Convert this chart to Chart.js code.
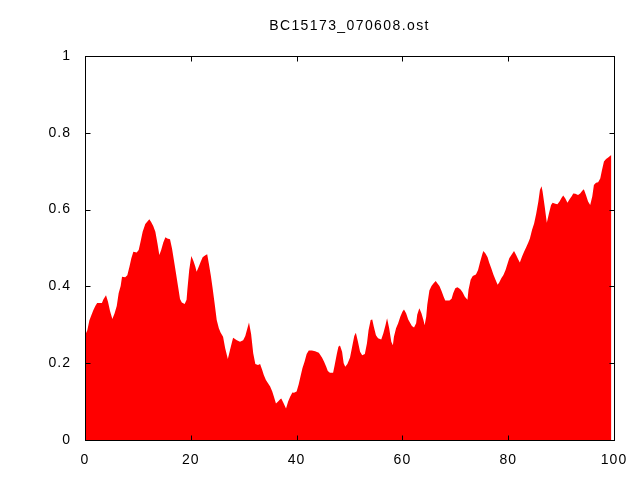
<!DOCTYPE html>
<html>
<head>
<meta charset="utf-8">
<script src="https://cdn.jsdelivr.net/npm/chart.js@4/dist/chart.umd.min.js"></script>
<style>
html,body{margin:0;padding:0;background:#fff;}
#wrap{width:640px;height:480px;}
</style>
</head>
<body>
<div id="wrap"><canvas id="c" width="640" height="480"></canvas></div>
<script>
const chartTitle = "BC15173_070608.ost";
const xTickValues = [0, 20, 40, 60, 80, 100];
const yTickValues = [0, 0.2, 0.4, 0.6, 0.8, 1];

const xs = [0,0.44,0.82,1.2,1.57,1.95,2.3,2.7,3.2,3.47,3.97,4.35,4.73,5.17,5.6,6.0,6.36,6.74,7.0,7.6,8.0,8.4,8.76,9.14,9.77,10.15,10.5,10.9,11.4,11.8,12.16,12.5,12.9,13.3,13.7,14.05,14.4,14.8,15.2,15.56,16.07,16.45,16.8,17.2,17.6,17.96,18.3,18.84,19.2,19.35,19.7,20.1,20.5,20.86,21.1,21.5,21.87,22.24,22.75,23.1,
23.4,23.8,24.1,24.5,24.9,25.3,25.65,26.1,26.5,27.0,27.4,27.8,28.0,28.7,29.3,29.9,30.3,30.7,31.0,31.4,31.8,32.2,32.7,33.1,33.5,33.8,34.2,34.6,35.0,35.4,35.7,36.1,36.5,36.9,37.1,37.5,38.0,38.4,38.8,39.2,39.5,40.0,40.4,40.8,41.1,41.5,41.9,42.3,42.9,43.5,44.2,
44.8,45.2,45.6,45.9,46.3,46.9,47.2,47.6,47.9,48.2,48.6,48.9,49.2,49.6,50.1,50.5,50.9,51.2,51.6,52.0,52.4,52.9,53.3,53.6,54.0,54.3,54.6,55.0,55.4,56.0,56.4,56.8,57.1,57.5,57.9,58.2,58.4,58.8,59.2,59.6,60.0,60.3,60.7,61.1,61.5,61.8,62.2,62.6,62.8,63.2,63.6,64.0,64.2,64.5,64.7,65.1,65.5,65.9,66.3,66.6,67.0,67.4,67.8,68.1,68.9,69.3,69.6,70.0,70.4,70.7,
71.0,71.4,71.8,72.3,72.5,72.9,73.3,73.9,74.3,74.7,75.1,75.3,75.7,76.1,76.4,76.8,77.2,77.6,78.0,78.3,78.7,79.1,79.5,79.9,80.2,80.6,81.1,81.5,81.9,82.2,82.6,83.0,83.4,83.8,84.1,84.5,84.9,85.3,85.7,86.0,86.3,86.5,86.9,87.3,87.7,88.1,88.4,88.9,89.3,89.7,90.1,90.4,90.8,91.2,91.6,92.0,92.3,92.7,93.2,93.6,94.0,94.3,94.7,95.1,95.5,95.9,96.2,96.6,97.0,97.4,97.7,98.1,98.5,98.9,99.3,99.5];

const ys = [0.273,0.286,0.311,0.325,0.338,0.349,0.357,0.357,0.357,0.366,0.377,0.36,0.336,0.315,0.33,0.349,0.382,0.401,0.425,0.424,0.429,0.451,0.473,0.49,0.488,0.495,0.516,0.542,0.5625,0.569,0.575,0.568,0.557,0.542,0.512,0.482,0.495,0.514,0.528,0.525,0.523,0.499,0.469,0.434,0.399,0.367,0.358,0.354,0.365,0.391,0.443,0.479,0.466,0.451,0.438,0.451,0.464,0.476,0.481,0.484,
0.46,0.427,0.398,0.356,0.3125,0.291,0.279,0.269,0.239,0.211,0.234,0.256,0.266,0.26,0.256,0.26,0.271,0.291,0.306,0.276,0.226,0.198,0.195,0.198,0.182,0.169,0.156,0.148,0.139,0.126,0.113,0.095,0.1,0.106,0.108,0.097,0.082,0.1,0.113,0.124,0.123,0.126,0.145,0.169,0.187,0.204,0.224,0.233,0.233,0.231,0.227,
0.215,0.204,0.191,0.18,0.175,0.175,0.195,0.224,0.243,0.246,0.23,0.2,0.191,0.198,0.215,0.243,0.271,0.279,0.256,0.23,0.221,0.224,0.252,0.286,0.3125,0.314,0.295,0.273,0.265,0.262,0.278,0.299,0.317,0.291,0.256,0.247,0.269,0.291,0.304,0.321,0.334,0.34,0.33,0.314,0.304,0.297,0.293,0.304,0.326,0.343,0.33,0.311,0.299,0.321,0.352,0.389,0.401,0.408,0.414,0.408,0.401,0.388,0.373,0.363,0.363,0.368,0.382,0.395,0.398,0.395,
0.392,0.384,0.373,0.365,0.391,0.417,0.427,0.431,0.443,0.464,0.484,0.492,0.486,0.476,0.462,0.447,0.431,0.417,0.404,0.41,0.421,0.43,0.443,0.46,0.473,0.482,0.492,0.482,0.47,0.462,0.477,0.49,0.502,0.514,0.525,0.547,0.564,0.59,0.621,0.651,0.661,0.647,0.608,0.566,0.59,0.612,0.618,0.615,0.614,0.621,0.631,0.637,0.629,0.618,0.627,0.635,0.642,0.641,0.638,0.642,0.649,0.653,0.638,0.621,0.612,0.635,0.664,0.67,0.671,0.681,0.701,0.725,0.732,0.736,0.74,0.742];

const points = xs.map((x, i) => ({x: x, y: ys[i]}));

const FONT = "'Liberation Sans', Arial, sans-serif";

const framePlugin = {
  id: 'frame',
  beforeDraw(chart) {
    chart.ctx.letterSpacing = '1px';
  },
  afterDatasetsDraw(chart) {
    const ctx = chart.ctx;
    const a = chart.chartArea;
    const xs_ = chart.scales.x, ys_ = chart.scales.y;
    const L = Math.round(a.left) + 0.5, R = Math.round(a.right) + 0.5;
    const T = Math.round(a.top) + 0.5, B = Math.round(a.bottom) + 0.5;
    const tl = 5;
    ctx.save();
    ctx.strokeStyle = '#000';
    ctx.lineWidth = 1;
    ctx.beginPath();
    xTickValues.forEach(v => {
      const px = Math.round(xs_.getPixelForValue(v)) + 0.5;
      ctx.moveTo(px, B); ctx.lineTo(px, B - tl);
      ctx.moveTo(px, T); ctx.lineTo(px, T + tl);
    });
    yTickValues.forEach(v => {
      const py = Math.round(ys_.getPixelForValue(v)) + 0.5;
      ctx.moveTo(L, py); ctx.lineTo(L + tl, py);
      ctx.moveTo(R, py); ctx.lineTo(R - tl, py);
    });
    ctx.stroke();
    ctx.strokeRect(L, T, R - L, B - T);
    ctx.fillStyle = '#000';
    ctx.font = '14px ' + FONT;
    ctx.letterSpacing = '1.4px';
    ctx.textAlign = 'center';
    ctx.textBaseline = 'middle';
    ctx.fillText(chartTitle, (a.left + a.right) / 2, 26);
    ctx.restore();
  }
};

new Chart(document.getElementById('c'), {
  type: 'line',
  data: {
    datasets: [{
      data: points,
      parsing: false,
      fill: 'origin',
      backgroundColor: '#ff0000',
      borderColor: '#ff0000',
      borderWidth: 0,
      pointRadius: 0,
      tension: 0
    }]
  },
  options: {
    responsive: false,
    animation: false,
    devicePixelRatio: 1,
    layout: { padding: { top: 56, right: 26, left: 0, bottom: 0 } },
    plugins: { legend: { display: false }, title: { display: false }, tooltip: { enabled: false } },
    scales: {
      x: {
        type: 'linear', min: 0, max: 100,
        afterFit(s) { s.height = 40; },
        afterBuildTicks(s) { s.ticks = xTickValues.map(v => ({value: v})); },
        grid: { display: false, drawTicks: false },
        border: { display: false },
        ticks: { padding: 12, color: '#000', font: { family: FONT, size: 14 }, maxRotation: 0,
                 callback: v => String(v) }
      },
      y: {
        type: 'linear', min: 0, max: 1,
        afterFit(s) { s.width = 85; },
        afterBuildTicks(s) { s.ticks = yTickValues.map(v => ({value: v})); },
        grid: { display: false, drawTicks: false },
        border: { display: false },
        ticks: { padding: 14, color: '#000', font: { family: FONT, size: 14 },
                 callback: v => String(v) }
      }
    }
  },
  plugins: [framePlugin]
});
</script>
</body>
</html>
